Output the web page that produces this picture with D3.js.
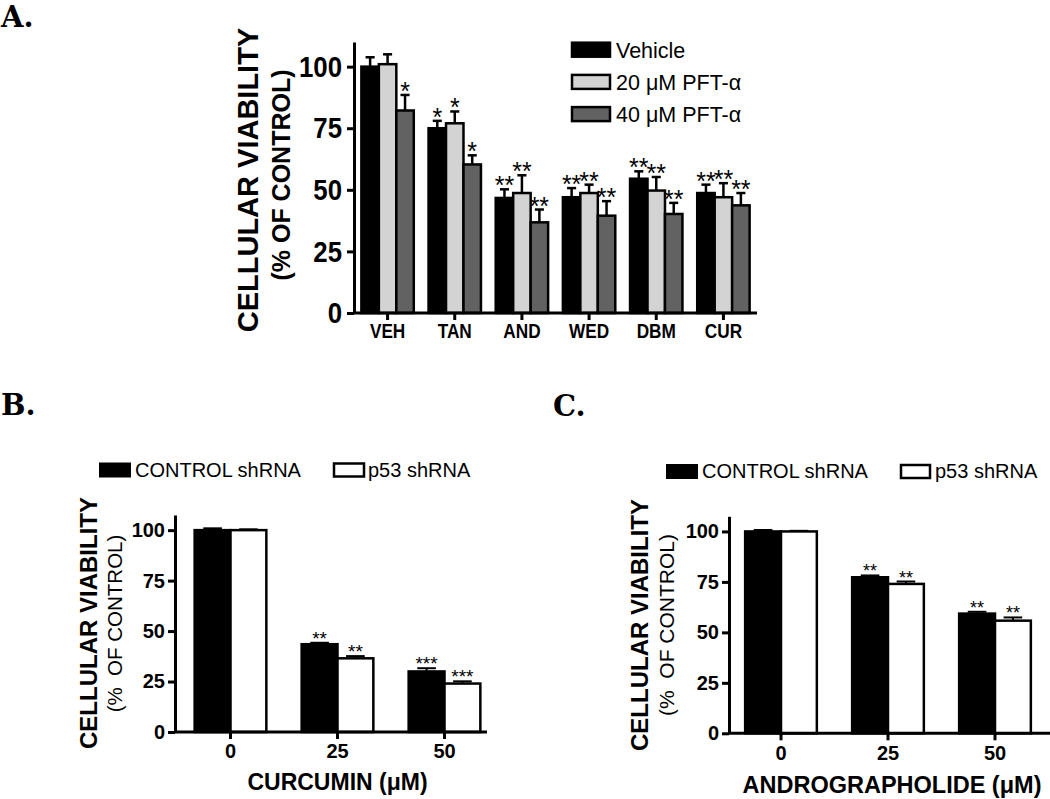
<!DOCTYPE html>
<html><head><meta charset="utf-8">
<script src="https://cdn.jsdelivr.net/npm/d3@7"></script>
<style>
body{margin:0;background:#fff}
svg{display:block}
text{font-family:"Liberation Sans",Arial,Helvetica,sans-serif;fill:#000}
</style>
</head><body>
<svg id="c" width="1050" height="799"></svg>
<script>
// ---------- Panel A data ----------
const catsA = ["VEH","TAN","AND","WED","DBM","CUR"];
const seriesNamesA = ["Vehicle","20 \u03bcM PFT-\u03b1","40 \u03bcM PFT-\u03b1"];
const seriesColorsA = ["#000000","#d3d3d3","#626262"];
const vehicleVals = [100, 75, 46.7, 47, 54.5, 48.7];
const vehicleErr  = [3.8, 3, 3.5, 3.7, 3, 3.4];
const vehicleSig  = ["", "*", "**", "**", "**", "**"];
const pft20Vals   = [101, 77, 48.7, 48.7, 49.7, 47];
const pft20Err    = [4, 4.8, 7.2, 3.4, 5.5, 5.7];
const pft20Sig    = ["", "*", "**", "**", "**", "**"];
const pft40Vals   = [82.2, 60.3, 36.8, 39.5, 40.2, 43.7];
const pft40Err    = [6.3, 3.7, 5.2, 5.9, 4.5, 5];
const pft40Sig    = ["*", "*", "**", "**", "**", "**"];
const yTicksA = [0, 25, 50, 75, 100];

// ---------- Panel B data ----------
const dosesB = ["0","25","50"];
const seriesNamesBC = ["CONTROL shRNA","p53 shRNA"];
const seriesColorsBC = ["#000000","#ffffff"];
const curControlVals = [100, 43.5, 30];
const curControlErr  = [0.9, 0.7, 1.6];
const curControlSig  = ["", "**", "***"];
const curP53Vals     = [100, 36.5, 24];
const curP53Err      = [0.4, 1.1, 1.1];
const curP53Sig      = ["", "**", "***"];

// ---------- Panel C data ----------
const dosesC = ["0","25","50"];
const andControlVals = [100, 77.3, 59.3];
const andControlErr  = [0.7, 0.9, 0.9];
const andControlSig  = ["", "**", "**"];
const andP53Vals     = [100, 74, 55.8];
const andP53Err      = [0.3, 1.2, 1.6];
const andP53Sig      = ["", "**", "**"];
const yTicksBC = [0, 25, 50, 75, 100];

const svg = d3.select("#c");

function squeeze(sel, f) {
  if (f === 1) return;
  sel.each(function() {
    const L = this.getComputedTextLength();
    d3.select(this).attr("textLength", L * f).attr("lengthAdjust", "spacingAndGlyphs");
  });
}

function barPanel(o) {
  const g = svg.append("g");
  const x = d3.scaleBand().domain(o.cats).range(o.xRange).paddingInner(o.pi).paddingOuter(o.po);
  const xi = d3.scaleBand().domain(o.series.map(s => s.name)).range([0, x.bandwidth()]);
  const y = d3.scaleLinear().domain(o.yDomain).range(o.yRange);
  const bw = xi.bandwidth();

  o.series.forEach(s => {
    const rows = o.cats.map((c, i) => ({c, v: s.values[i], e: s.errors[i], sig: s.sig[i]}));
    const sg = g.append("g");
    sg.selectAll("line.eb").data(rows).join("line").attr("class","eb")
      .attr("x1", d => x(d.c) + xi(s.name) + bw/2).attr("x2", d => x(d.c) + xi(s.name) + bw/2)
      .attr("y1", d => y(d.v)).attr("y2", d => y(d.v + d.e))
      .attr("stroke","#000").attr("stroke-width", o.ebw);
    sg.selectAll("line.cap").data(rows).join("line").attr("class","cap")
      .attr("x1", d => x(d.c) + xi(s.name) + bw/2 - bw*o.capFrac)
      .attr("x2", d => x(d.c) + xi(s.name) + bw/2 + bw*o.capFrac)
      .attr("y1", d => y(d.v + d.e)).attr("y2", d => y(d.v + d.e))
      .attr("stroke","#000").attr("stroke-width", o.ebw);
    sg.selectAll("text.sig").data(rows).join("text").attr("class","sig")
      .attr("x", d => x(d.c) + xi(s.name) + bw/2)
      .attr("y", d => y(d.v + d.e) + o.sigOff)
      .attr("text-anchor","middle").style("font-size", o.sigSize + "px")
      .text(d => d.sig);
  });
  o.series.forEach(s => {
    const rows = o.cats.map((c, i) => ({c, v: s.values[i]}));
    g.append("g").selectAll("rect").data(rows).join("rect")
      .attr("x", d => x(d.c) + xi(s.name)).attr("width", bw)
      .attr("y", d => y(d.v)).attr("height", d => y(0) - y(d.v))
      .attr("fill", s.color).attr("stroke","#000").attr("stroke-width", o.bsw);
  });

  const ya = g.append("g").attr("transform", `translate(${o.axisX},0)`)
    .call(d3.axisLeft(y).tickValues(o.yTicks).tickSize(7).tickSizeOuter(0).tickPadding(o.ytp));
  ya.select(".domain").attr("stroke-width", o.aw);
  ya.selectAll(".tick line").attr("stroke-width", o.aw);
  const yt = ya.selectAll(".tick text").style("font-size", o.ytfs + "px").style("font-weight","bold")
    .style("font-family", '"Liberation Sans",Arial,sans-serif').attr("fill","#000");
  squeeze(yt, o.sq);

  const xa = g.append("g").attr("transform", `translate(0,${y(0)})`)
    .call(d3.axisBottom(x).tickSize(7).tickSizeOuter(0).tickPadding(o.xtp));
  xa.select(".domain").attr("d", `M${o.axisX},0H${o.axisEnd}`).attr("stroke-width", o.aw);
  xa.selectAll(".tick line").attr("stroke-width", o.aw);
  const xt = xa.selectAll(".tick text").style("font-size", o.xtfs + "px").style("font-weight","bold")
    .style("font-family", '"Liberation Sans",Arial,sans-serif').attr("fill","#000");
  squeeze(xt, o.sq);
  return g;
}

function ytitle(x, y, txt, size, weight) {
  svg.append("text").attr("transform", `translate(${x},${y}) rotate(-90)`)
    .attr("text-anchor","middle").style("font-size", size + "px").style("font-weight", weight)
    .style("white-space","pre").text(txt);
}
function label(x, y, txt, size, weight, anchor, family) {
  const t = svg.append("text").attr("x", x).attr("y", y).attr("text-anchor", anchor || "start")
    .style("font-size", size + "px").style("font-weight", weight || "normal").text(txt);
  if (family) t.style("font-family", family);
  return t;
}

// ---------- Panel A ----------
barPanel({
  cats: catsA,
  series: [
    {name: seriesNamesA[0], color: seriesColorsA[0], values: vehicleVals, errors: vehicleErr, sig: vehicleSig},
    {name: seriesNamesA[1], color: seriesColorsA[1], values: pft20Vals, errors: pft20Err, sig: pft20Sig},
    {name: seriesNamesA[2], color: seriesColorsA[2], values: pft40Vals, errors: pft40Err, sig: pft40Sig}
  ],
  xRange: [354, 757], pi: 0.22, po: 0.11,
  yDomain: [0, 110], yRange: [313, 42], yTicks: yTicksA,
  axisX: 354, axisEnd: 757, aw: 3, bsw: 2.5, ebw: 2.5, capFrac: 0.26,
  sigSize: 25, sigOff: 5, ytfs: 30, ytp: 5, xtfs: 20, xtp: 4, sq: 0.86
});
ytitle(258, 180, "CELLULAR VIABILITY", 29, "bold");
ytitle(290, 175, "(% OF CONTROL)", 25, "bold");
seriesNamesA.forEach((n, i) => {
  const cy = 49.7 + i * 32.2;
  svg.append("rect").attr("x", 572).attr("y", cy - 7).attr("width", 38).attr("height", 14)
    .attr("fill", seriesColorsA[i]).attr("stroke", "#000").attr("stroke-width", 2.5);
  label(616, cy + 8, n, 21.5);
});
label(1, 27, "A.", 29, "bold", "start", '"DejaVu Serif",serif');

// ---------- Panel B ----------
barPanel({
  cats: dosesB,
  series: [
    {name: seriesNamesBC[0], color: seriesColorsBC[0], values: curControlVals, errors: curControlErr, sig: curControlSig},
    {name: seriesNamesBC[1], color: seriesColorsBC[1], values: curP53Vals, errors: curP53Err, sig: curP53Sig}
  ],
  xRange: [177, 498], pi: 0.33, po: 0.165,
  yDomain: [0, 107.5], yRange: [732, 515], yTicks: yTicksBC,
  axisX: 175, axisEnd: 487, aw: 3, bsw: 2.5, ebw: 2, capFrac: 0.26,
  sigSize: 19, sigOff: 2, ytfs: 20, ytp: 3, xtfs: 20, xtp: 5, sq: 1
});
ytitle(97, 623, "CELLULAR VIABILITY", 24, "bold");
ytitle(122, 623.5, "(%\u00a0\u00a0OF CONTROL)", 20.5, "normal");
label(337.5, 790, "CURCUMIN (\u03bcM)", 23, "bold", "middle");
svg.append("rect").attr("x", 100).attr("y", 463.5).attr("width", 30).attr("height", 13).attr("fill", "#000").attr("stroke","#000").attr("stroke-width",2);
label(135, 477, seriesNamesBC[0], 20);
svg.append("rect").attr("x", 334).attr("y", 463.5).attr("width", 30).attr("height", 13).attr("fill", "#fff").attr("stroke","#000").attr("stroke-width",2.5);
label(368, 477, seriesNamesBC[1], 20);
label(1, 415, "B.", 29, "bold", "start", '"DejaVu Serif",serif');

// ---------- Panel C ----------
barPanel({
  cats: dosesC,
  series: [
    {name: seriesNamesBC[0], color: seriesColorsBC[0], values: andControlVals, errors: andControlErr, sig: andControlSig},
    {name: seriesNamesBC[1], color: seriesColorsBC[1], values: andP53Vals, errors: andP53Err, sig: andP53Sig}
  ],
  xRange: [727.5, 1048.5], pi: 0.33, po: 0.165,
  yDomain: [0, 107.5], yRange: [733.3, 516.3], yTicks: yTicksBC,
  axisX: 729, axisEnd: 1050, aw: 3, bsw: 2.5, ebw: 2, capFrac: 0.26,
  sigSize: 18, sigOff: 2, ytfs: 20, ytp: 3, xtfs: 20, xtp: 5.5, sq: 1
});
ytitle(648, 625, "CELLULAR VIABILITY", 24, "bold");
ytitle(674, 625, "(%\u00a0\u00a0OF CONTROL)", 21, "normal");
label(892, 793, "ANDROGRAPHOLIDE (\u03bcM)", 23.5, "bold", "middle");
svg.append("rect").attr("x", 667).attr("y", 465).attr("width", 30).attr("height", 13).attr("fill", "#000").attr("stroke","#000").attr("stroke-width",2);
label(702, 478, seriesNamesBC[0], 20);
svg.append("rect").attr("x", 901).attr("y", 465).attr("width", 29).attr("height", 13).attr("fill", "#fff").attr("stroke","#000").attr("stroke-width",2.5);
label(935, 478, seriesNamesBC[1], 20);
label(553, 416, "C.", 29, "bold", "start", '"DejaVu Serif",serif');
</script>
</body></html>
